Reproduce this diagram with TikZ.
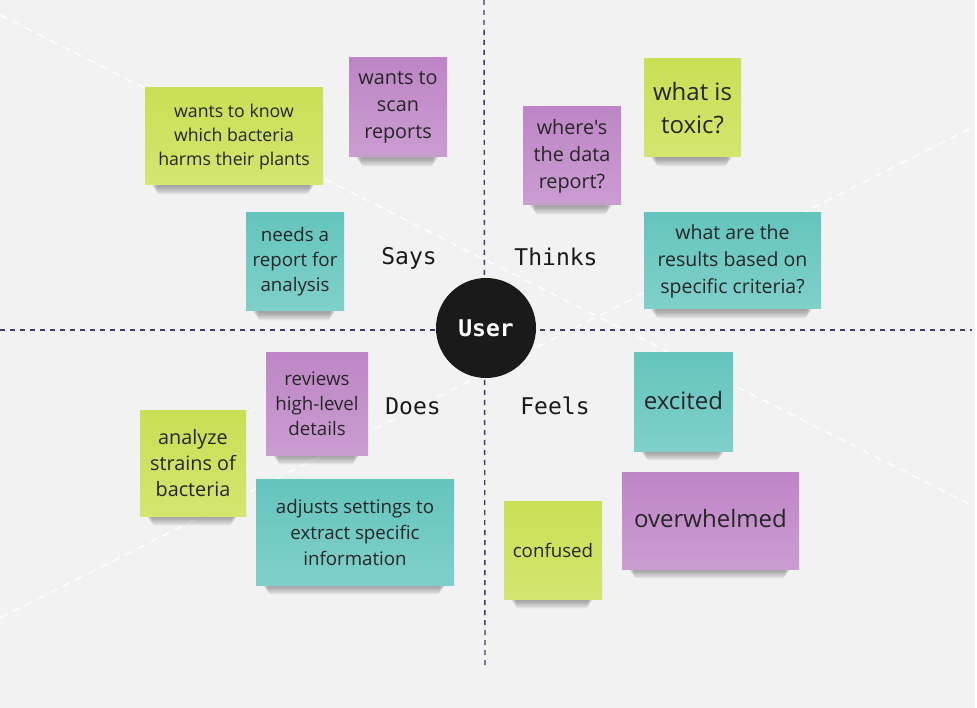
\documentclass[tikz,border=0pt]{standalone}
\usepackage{fontspec}
\setmainfont{Open Sans}[Ligatures=TeXOff]
\setmonofont{DejaVu Sans Mono}
\definecolor{bg}{HTML}{F2F2F2}
\definecolor{gtop}{HTML}{CADF55}
\definecolor{gbot}{HTML}{D5E56F}
\definecolor{ptop}{HTML}{BE85C6}
\definecolor{pbot}{HTML}{CA9DD1}
\definecolor{ttop}{HTML}{64C5BE}
\definecolor{tbot}{HTML}{80D0CA}
\definecolor{notetext}{HTML}{262626}
\definecolor{axis}{HTML}{3E3A6C}
\definecolor{ink}{HTML}{1A1A1A}
\tikzset{
  sticky/.style={inner sep=0pt, align=center, text=notetext, draw=none},
  lab/.style={font=\ttfamily\fontsize{23}{27}\selectfont, text=ink, inner sep=0pt},
  axisline/.style={draw=axis, line width=1.4pt, dash pattern=on 5pt off 5pt},
  diag/.style={draw=white, line width=1.2pt, dash pattern=on 8pt off 6pt},
}
% #1 name, #2 x0, #3 y0, #4 x1, #5 y1, #6 colour prefix, #7 font size, #8 skip, #9 text
\newcommand\stickynote[9]{%
  \foreach \k in {1,...,6}{%
    \fill[black,opacity=0.06,rounded corners=3pt] ({#2+6+\k},{#5-3}) rectangle ({#4-8-\k},{#5+1+\k*1.4});
  }%
  \node[sticky, top color=#6top, bottom color=#6bot,
        minimum width={(#4-#2)*1pt}, minimum height={(#5-#3)*1pt},
        font=\fontsize{#7}{#8}\selectfont] (#1) at ({(#2+#4)/2},{(#3+#5)/2}) {#9};%
}
\begin{document}
\begin{tikzpicture}[x=1pt,y=-1pt]
\useasboundingbox (0,0) rectangle (977,708);
\fill[bg] (0,0) rectangle (975,708);
\fill[white] (975,0) rectangle (977,708);

% faint diagonals
\coordinate (d1a) at (0,15);
\coordinate (d1b) at (977,508);
\coordinate (d2a) at (0,618);
\coordinate (d2b) at (977,125);
\draw[diag] (d1a) -- (d1b);
\draw[diag] (d2a) -- (d2b);

% axes
\coordinate (vtop) at (484,0);
\coordinate (vbot) at (485,667);
\coordinate (hl) at (0,330);
\coordinate (hr) at (972,330);
\draw[axisline] (vtop) -- (vbot);
\draw[axisline] (hl) -- (hr);

% Says
\stickynote{s1}{145}{88}{323}{185}{g}{17.7}{24}{wants to know\\which bacteria\\harms their plants}
\stickynote{s2}{349}{58}{447}{157}{p}{19.8}{27}{wants to\\scan\\reports}
\stickynote{s3}{246}{213}{344}{311}{t}{18.7}{25}{needs a\\report for\\analysis}
% Thinks
\stickynote{t1}{523}{107}{621}{205}{p}{19.8}{27}{where's\\the data\\report?}
\stickynote{t2}{644}{59}{741}{157}{g}{24}{33}{what is\\toxic?}
\stickynote{t3}{644}{213}{821}{309}{t}{19.5}{27}{what are the\\results based on\\specific criteria?}
% Does
\stickynote{d1}{266}{353}{368}{455}{p}{18.7}{25}{reviews\\high-level\\details}
\stickynote{d2}{140}{410}{246}{516}{g}{19.8}{26}{analyze\\strains of\\bacteria}
\stickynote{d3}{256}{479}{454}{585}{t}{18.7}{26}{adjusts settings to\\extract specific\\information}
% Feels
\stickynote{f1}{634}{353}{733}{451}{t}{24}{31}{\raisebox{4pt}{excited}}
\stickynote{f2}{622}{472}{799}{569}{p}{24}{31}{\raisebox{4pt}{overwhelmed}}
\stickynote{f3}{504}{501}{602}{599}{g}{18.7}{25}{confused}

% quadrant labels
\node[lab] (says) at (409,258) {Says};
\node[lab] (thinks) at (556,257) {Thinks};
\node[lab] (does) at (413,406) {Does};
\node[lab] (feels) at (555,406) {Feels};

% centre
\node[circle, fill=ink, minimum size=100pt, inner sep=0pt, text=white,
      font=\ttfamily\bfseries\fontsize{23}{27}\selectfont] (user) at (486,328) {User};
\end{tikzpicture}
\end{document}
